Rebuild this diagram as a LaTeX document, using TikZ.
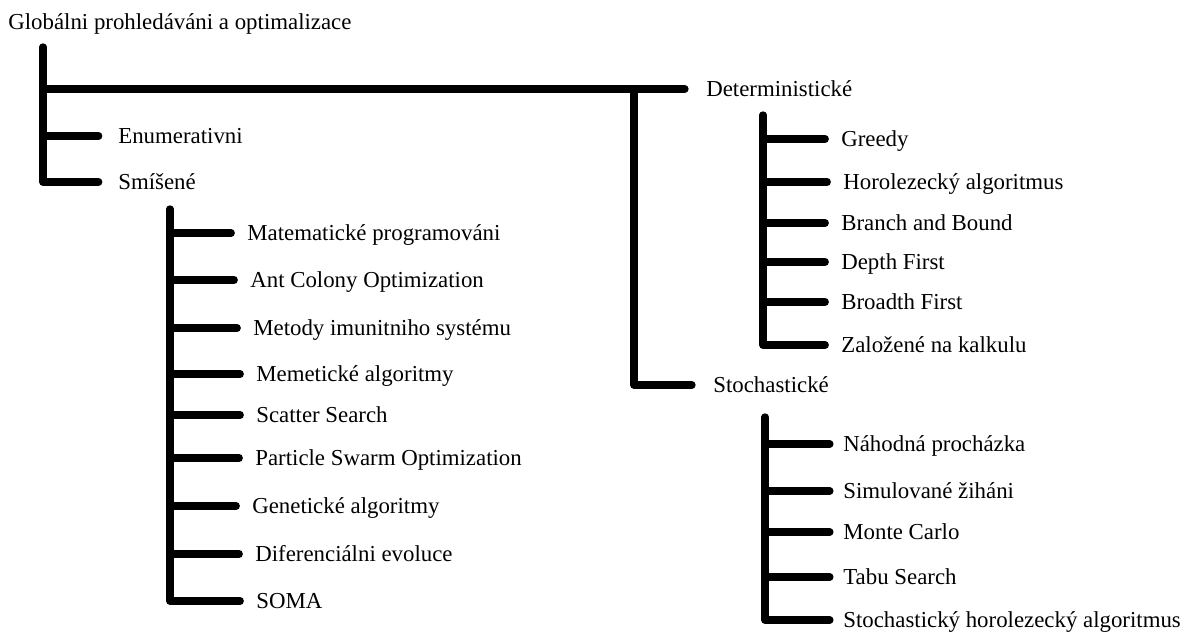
\documentclass[tikz,border=0pt]{standalone}
\usepackage{fontspec}
\setmainfont{Liberation Serif}
\usetikzlibrary{positioning}
\tikzset{
  branch/.style={line width=4.2pt, line cap=round, line join=round},
  lbl/.style={anchor=west, inner sep=0pt, text height=10.5pt, text depth=2.5pt, font=\fontsize{13}{15}\selectfont}
}

\begin{document}
\begin{tikzpicture}[x=0.02cm,y=-0.02cm]
\useasboundingbox (0,0) rectangle (1189,633);
% labels
\node[lbl] (root) at (8,22) {Globálni prohledáváni a optimalizace};
\node[lbl] (det) at (706,89) {Deterministické};
\node[lbl] (enu) at (118,136) {Enumerativni};
\node[lbl] (sms) at (118,182) {Smíšené};
\node[lbl] (sto) at (713,385) {Stochastické};
\node[lbl] (m1) at (247,233) {Matematické programováni};
\node[lbl] (m2) at (250,280) {Ant Colony Optimization};
\node[lbl] (m3) at (253,328) {Metody imunitniho systému};
\node[lbl] (m4) at (256,374) {Memetické algoritmy};
\node[lbl] (m5) at (256,415) {Scatter Search};
\node[lbl] (m6) at (255,458) {Particle Swarm Optimization};
\node[lbl] (m7) at (252,506) {Genetické algoritmy};
\node[lbl] (m8) at (255,554) {Diferenciálni evoluce};
\node[lbl] (m9) at (256,601) {SOMA};
\node[lbl] (d1) at (841,139) {Greedy};
\node[lbl] (d2) at (843,182) {Horolezecký algoritmus};
\node[lbl] (d3) at (841,223) {Branch and Bound};
\node[lbl] (d4) at (841,262) {Depth First};
\node[lbl] (d5) at (841,302) {Broadth First};
\node[lbl] (d6) at (841,345) {Založené na kalkulu};
\node[lbl] (s1) at (843,444) {Náhodná procházka};
\node[lbl] (s2) at (843,491) {Simulované žiháni};
\node[lbl] (s3) at (843,532) {Monte Carlo};
\node[lbl] (s4) at (843,577) {Tabu Search};
\node[lbl] (s5) at (843,620) {Stochastický horolezecký algoritmus};
% trunks
\coordinate (rt) at (43,47);
\coordinate (dt) at (634,89);
\coordinate (ss) at (170,209);
\coordinate (dd) at (763,115);
\coordinate (st) at (765,417);
% main level
\draw[branch, shorten >=11pt] (rt) |- (sms.west);
\draw[branch, shorten >=11pt] (rt |- enu.west) -- (enu.west);
\draw[branch, shorten >=12pt] (rt |- det.west) -- (det.west);
\draw[branch, shorten >=12pt] (dt) |- (sto.west);
% smisene
\draw[branch, shorten >=9pt] (ss) |- (m9.west);
\draw[branch, shorten >=9pt] (ss |- m1.west) -- (m1.west);
\draw[branch, shorten >=9pt] (ss |- m2.west) -- (m2.west);
\draw[branch, shorten >=9pt] (ss |- m3.west) -- (m3.west);
\draw[branch, shorten >=9pt] (ss |- m4.west) -- (m4.west);
\draw[branch, shorten >=9pt] (ss |- m5.west) -- (m5.west);
\draw[branch, shorten >=9pt] (ss |- m6.west) -- (m6.west);
\draw[branch, shorten >=9pt] (ss |- m7.west) -- (m7.west);
\draw[branch, shorten >=9pt] (ss |- m8.west) -- (m8.west);
% deterministicke
\draw[branch, shorten >=9pt] (dd) |- (d6.west);
\draw[branch, shorten >=9pt] (dd |- d1.west) -- (d1.west);
\draw[branch, shorten >=9pt] (dd |- d2.west) -- (d2.west);
\draw[branch, shorten >=9pt] (dd |- d3.west) -- (d3.west);
\draw[branch, shorten >=9pt] (dd |- d4.west) -- (d4.west);
\draw[branch, shorten >=9pt] (dd |- d5.west) -- (d5.west);
% stochasticke
\draw[branch, shorten >=7.5pt] (st) |- (s5.west);
\draw[branch, shorten >=7.5pt] (st |- s1.west) -- (s1.west);
\draw[branch, shorten >=7.5pt] (st |- s2.west) -- (s2.west);
\draw[branch, shorten >=7.5pt] (st |- s3.west) -- (s3.west);
\draw[branch, shorten >=7.5pt] (st |- s4.west) -- (s4.west);
\end{tikzpicture}
\end{document}
